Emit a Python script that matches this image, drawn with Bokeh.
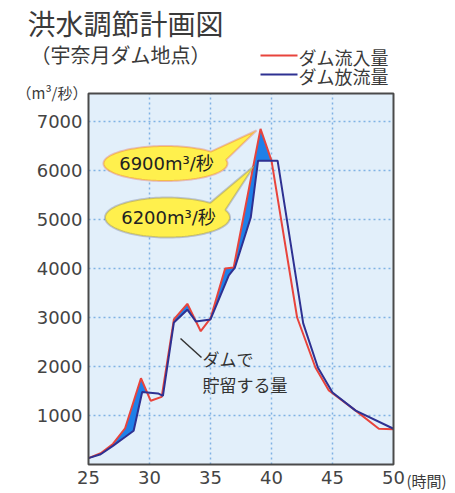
import numpy as np
from bokeh.plotting import figure
from bokeh.models import Range1d, Label, Arrow, PolyAnnotation, FixedTicker
from bokeh.embed import file_html
from bokeh.resources import INLINE

# ---- data (hours, m3/s) ----
inflow_hours = [25, 26, 27, 28, 29.3, 30.1, 31, 32, 33.1, 34.2, 35, 36.2, 36.9, 39.1, 40, 42.1, 43.6, 44.7, 46.9, 48.8, 50]
inflow = [130, 230, 420, 740, 1760, 1300, 1380, 2960, 3280, 2720, 2980, 4000, 4020, 6850, 6200, 3000, 1980, 1510, 1100, 730, 720]
outflow_hours = [25, 26, 27, 28, 28.7, 29.4, 30.7, 31.1, 32, 33.1, 33.8, 35, 36.5, 37, 38.3, 38.9, 40.5, 42.6, 43.8, 45, 46.9, 50]
outflow = [130, 210, 380, 560, 690, 1480, 1450, 1400, 2900, 3160, 2920, 2960, 3860, 4020, 5040, 6200, 6200, 2880, 1980, 1470, 1100, 730]
x_ticks = [25, 30, 35, 40, 45, 50]
y_ticks = [1000, 2000, 3000, 4000, 5000, 6000, 7000]
title_text = "洪水調節計画図"
subtitle_text = "（宇奈月ダム地点）"
legend_inflow = "ダム流入量"
legend_outflow = "ダム放流量"
unit_y = "（m³/秒）"
unit_x = "(時間)"
peak_in_label = "6900m³/秒"
peak_out_label = "6200m³/秒"
storage_label = "ダムで\n貯留する量"

# ---- layout (pixel geometry of the plot area) ----
W, H = 455, 493
FL, FR, FT, FB = 88, 393, 93, 464
X0, X1 = 25, 50
YMAX = (FB - FT) / 49.0 * 1000

def dx(px):
    return X0 + (px - FL) * (X1 - X0) / (FR - FL)

def dy(py):
    return (FB - py) * YMAX / (FB - FT)

JP = "Noto Sans CJK JP"
NUM = "DejaVu Sans, Noto Sans CJK JP"
TXT = "#3a3a3a"
RED = "#E8443C"
BLUE = "#2E3192"

p = figure(width=W, height=H, output_backend="svg", toolbar_location=None,
           x_range=Range1d(dx(0), dx(W)), y_range=Range1d(dy(H), dy(0)),
           min_border=0)
p.background_fill_color = "white"
p.border_fill_color = "white"
p.outline_line_color = None
p.xgrid.visible = False
p.ygrid.visible = False

for ax in (p.xaxis[0], p.yaxis[0]):
    ax.axis_line_color = None
    ax.major_tick_line_color = None
    ax.minor_tick_line_color = None
    ax.major_tick_out = 0
    ax.major_tick_in = 0
    ax.major_label_text_font = NUM
    ax.major_label_text_color = "#444444"
    ax.major_label_text_font_size = "18px"
p.xaxis.fixed_location = 0
p.yaxis.fixed_location = X0
p.xaxis.ticker = FixedTicker(ticks=x_ticks)
p.yaxis.ticker = FixedTicker(ticks=y_ticks)
p.xaxis.major_label_standoff = 6
p.yaxis.major_label_standoff = 6

# plot area
p.quad(left=[X0], right=[X1], bottom=[0], top=[YMAX], fill_color="#E2EFFA", line_color=None)
gx = x_ticks[1:-1]
p.segment(x0=gx, x1=gx, y0=[0] * len(gx), y1=[YMAX] * len(gx),
          line_color="#80B2E4", line_width=1.5, line_dash="2 3")
p.segment(x0=[X0] * len(y_ticks), x1=[X1] * len(y_ticks), y0=y_ticks, y1=y_ticks,
          line_color="#80B2E4", line_width=1.5, line_dash="2 3")

# storage fill (inflow above outflow)
grid = np.linspace(X0, X1, 2501)
fin = np.interp(grid, inflow_hours, inflow)
fout = np.interp(grid, outflow_hours, outflow)
p.varea(x=grid, y1=fout, y2=np.maximum(fin, fout), fill_color="#1F80E8")

p.line(inflow_hours, inflow, line_color=RED, line_width=2)
p.line(outflow_hours, outflow, line_color=BLUE, line_width=2)

p.quad(left=[X0], right=[X1], bottom=[0], top=[YMAX], fill_color=None,
       line_color="#4a4a4a", line_width=2)

# callouts
def callout(cx, cy, a, b, t1, t2, tip):
    ts = np.radians(np.linspace(t1, t2 + 360, 120))
    xs = [dx(cx + a * np.cos(t)) for t in ts] + [dx(tip[0])]
    ys = [dy(cy - b * np.sin(t)) for t in ts] + [dy(tip[1])]
    return xs, ys

xs, ys = callout(165, 163, 62, 17.5, 43, 12, (256, 130))
p.add_layout(PolyAnnotation(xs=xs, ys=ys, fill_color="#FFF04D", fill_alpha=1,
                            line_color="#E0443A", line_width=2))
xs, ys = callout(167, 217, 62.5, 20, 47, 22, (254, 165))
p.add_layout(PolyAnnotation(xs=xs, ys=ys, fill_color="#FFF04D", fill_alpha=1,
                            line_color="#55557A", line_width=2))
p.add_layout(Label(x=dx(166), y=dy(163), text=peak_in_label, text_font=NUM,
                   text_font_size="18px", text_color="#222222",
                   text_align="center", text_baseline="middle"))
p.add_layout(Label(x=dx(168), y=dy(217), text=peak_out_label, text_font=NUM,
                   text_font_size="18px", text_color="#222222",
                   text_align="center", text_baseline="middle"))

# storage annotation
p.add_layout(Arrow(x_start=dx(180), y_start=dy(338), x_end=dx(201), y_end=dy(357),
                   start=None, end=None, line_color="#333333", line_width=1.5))
p.add_layout(Label(x=dx(202), y=dy(345), text=storage_label, text_font=JP,
                   text_font_size="17px", text_color="#333333",
                   text_align="left", text_baseline="top", text_line_height=1.05))

# titles and legend
p.add_layout(Label(x=dx(27), y=dy(22), text=title_text, text_font=JP,
                   text_font_size="28px", text_color=TXT,
                   text_align="left", text_baseline="middle"))
p.add_layout(Label(x=dx(30), y=dy(54), text=subtitle_text, text_font=JP,
                   text_font_size="20px", text_color=TXT,
                   text_align="left", text_baseline="middle"))
p.add_layout(Arrow(x_start=dx(260), y_start=dy(55), x_end=dx(297), y_end=dy(55),
                   start=None, end=None, line_color=RED, line_width=2))
p.add_layout(Arrow(x_start=dx(260), y_start=dy(74), x_end=dx(297), y_end=dy(74),
                   start=None, end=None, line_color=BLUE, line_width=2))
p.add_layout(Label(x=dx(298), y=dy(56), text=legend_inflow, text_font=JP,
                   text_font_size="18px", text_color=TXT,
                   text_align="left", text_baseline="middle"))
p.add_layout(Label(x=dx(298), y=dy(75), text=legend_outflow, text_font=JP,
                   text_font_size="18px", text_color=TXT,
                   text_align="left", text_baseline="middle"))
p.add_layout(Label(x=dx(16), y=dy(92), text=unit_y, text_font=JP,
                   text_font_size="15px", text_color=TXT,
                   text_align="left", text_baseline="middle"))
p.add_layout(Label(x=dx(406), y=dy(480), text=unit_x, text_font=JP,
                   text_font_size="15px", text_color=TXT,
                   text_align="left", text_baseline="middle"))

open("out.html", "w").write(file_html(p, INLINE))
